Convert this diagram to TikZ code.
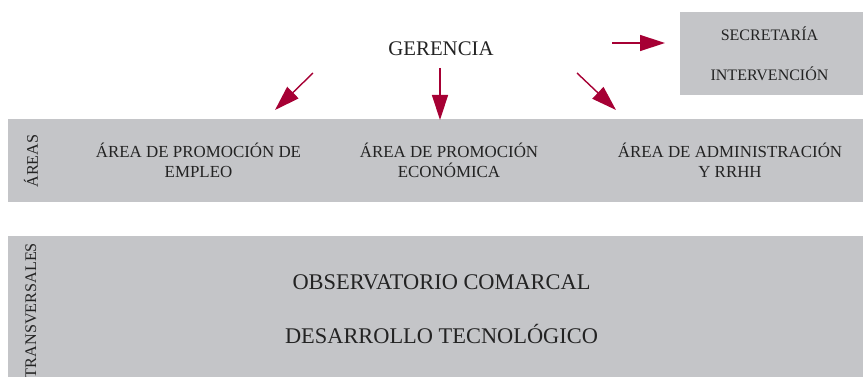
\documentclass[tikz,border=0pt]{standalone}
\usepackage{fontspec}
\setmainfont{Liberation Serif}
\usetikzlibrary{arrows.meta}
\definecolor{band}{RGB}{196,197,200}
\definecolor{arrowred}{RGB}{166,0,52}
\definecolor{txt}{RGB}{35,35,35}
\tikzset{
  bandbox/.style={fill=band, draw=none, inner sep=0pt, anchor=north west},
  lbl/.style={text=txt, inner sep=0pt, align=center},
  arr/.style={draw=arrowred, line width=1.4pt, -{Triangle[length=25pt,width=16pt]}},
}
\begin{document}
\begin{tikzpicture}[x=1pt,y=-1pt]
\useasboundingbox (0,0) rectangle (864,377);
% bands
\node[bandbox, minimum width=855pt, minimum height=83pt] (areas) at (8,119) {};
\node[bandbox, minimum width=855pt, minimum height=145pt] (trans) at (8,236) {};
% secretaria box
\node[bandbox, minimum width=183pt, minimum height=83pt] (sec) at (680,12) {};
\node[lbl, font=\fontsize{16}{40}\selectfont] (sectxt) at (769.5,54) {SECRETARÍA\\INTERVENCIÓN};
% gerencia
\node[lbl, font=\fontsize{20.8}{24}\selectfont] (ger) at (441,49) {GERENCIA};
% area labels
\node[lbl, font=\fontsize{16.9}{20}\selectfont] (a1) at (198.5,160) {ÁREA DE PROMOCIÓN DE\\EMPLEO};
\node[lbl, font=\fontsize{16.9}{20}\selectfont] (a2) at (449,160) {ÁREA DE PROMOCIÓN\\ECONÓMICA};
\node[lbl, font=\fontsize{16.9}{20}\selectfont] (a3) at (730,160) {ÁREA DE ADMINISTRACIÓN\\Y RRHH};
% rotated labels
\node[lbl, font=\fontsize{16.2}{20}\selectfont, rotate=90] (areaslbl) at (31,161) {ÁREAS};
\node[lbl, font=\fontsize{16.2}{20}\selectfont, rotate=90] (translbl) at (31,310.5) {TRANSVERSALES};
% transversal lines
\node[lbl, font=\fontsize{22.4}{26}\selectfont] (obs) at (441.5,282) {OBSERVATORIO COMARCAL};
\node[lbl, font=\fontsize{22.4}{26}\selectfont] (des) at (441.5,334) {DESARROLLO TECNOLÓGICO};
% arrow coordinates
\coordinate (l0) at (313,73);
\coordinate (l1) at (275,110);
\coordinate (m0) at (440,68);
\coordinate (m1) at (440,120);
\coordinate (r0) at (577,73);
\coordinate (r1) at (616,110);
\coordinate (s0) at (612,43);
\coordinate (s1) at (665,43);
\draw[arr] (l0) -- (l1);
\draw[arr] (m0) -- (m1);
\draw[arr] (r0) -- (r1);
\draw[arr] (s0) -- (s1);
\end{tikzpicture}
\end{document}
